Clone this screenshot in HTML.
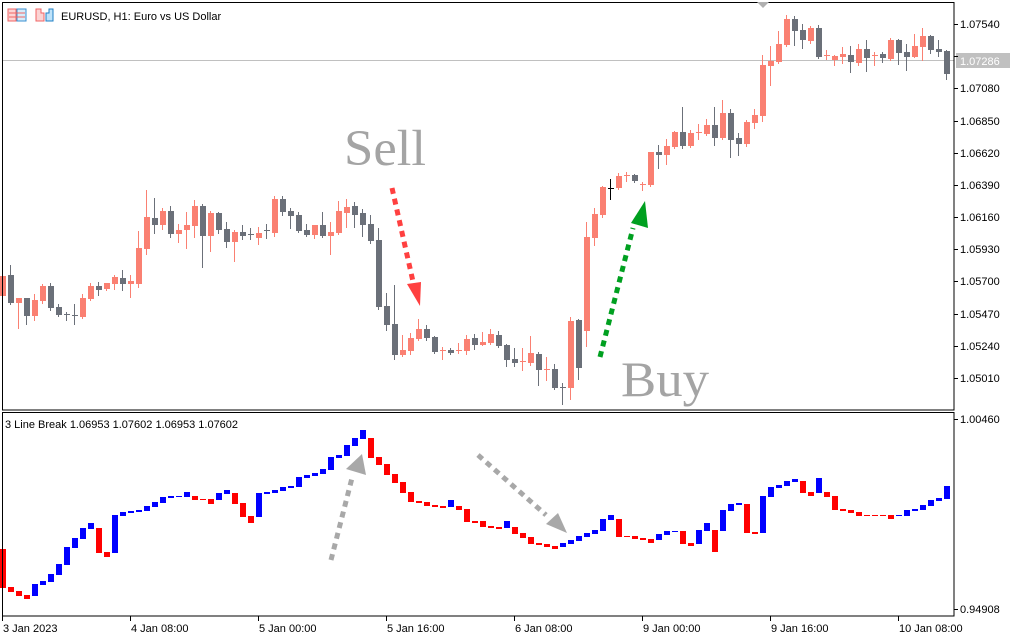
<!DOCTYPE html>
<html><head><meta charset="utf-8"><style>
html,body{margin:0;padding:0;background:#fff;width:1024px;height:640px;overflow:hidden}
svg{display:block}
text{font-family:"Liberation Sans",sans-serif;font-size:11px;fill:#000}
</style></head><body>
<svg id="s" width="1024" height="640" viewBox="0 0 1024 640" xmlns="http://www.w3.org/2000/svg">
<rect width="1024" height="640" fill="#fff"/>
<line x1="2" y1="60.5" x2="954" y2="60.5" stroke="#c0c0c0" stroke-width="1"/>
<g id="candles"></g>
<g id="boxes"></g>
<rect x="2.5" y="2.5" width="951.5" height="407.5" fill="none" stroke="#000" stroke-width="1"/>
<rect x="2.5" y="412.5" width="951.5" height="203.5" fill="none" stroke="#000" stroke-width="1"/>
<rect x="8" y="9" width="8" height="12" fill="#fbd4d4" stroke="#f06464"/>
<rect x="17" y="9" width="9" height="12" fill="#d6ecfa" stroke="#3a8fd0"/>
<line x1="9" y1="13" x2="25" y2="13" stroke="#f06464"/><line x1="9" y1="17" x2="25" y2="17" stroke="#f06464"/>
<path d="M36 9 h5 v4 h3 v8 h-8z" fill="#fbd4d4" stroke="#f06464"/>
<path d="M46 13 h3 v-4 h4 v12 h-7z" fill="#bfe3fa" stroke="#1f7fc4"/>
<text x="61" y="20">EURUSD, H1:  Euro vs US Dollar</text>
<text x="5" y="428">3 Line Break 1.06953 1.07602 1.06953 1.07602</text>
<path d="M757 2 L769 2 L763 8 Z" fill="#b0b0b0"/>
<text x="344" y="165" textLength="82" lengthAdjust="spacingAndGlyphs" style="font-family:'Liberation Serif',serif;font-size:51px;fill:#a4a4a4">Sell</text>
<text x="621" y="396" textLength="88" lengthAdjust="spacingAndGlyphs" style="font-family:'Liberation Serif',serif;font-size:50px;fill:#a4a4a4">Buy</text>
<line x1="392" y1="188" x2="414" y2="286" stroke="#ff4040" stroke-width="5" stroke-dasharray="6,5"/>
<path d="M407 284 L421 282 L420 306 Z" fill="#ff4040"/>
<line x1="600" y1="357" x2="633" y2="228" stroke="#00a020" stroke-width="5" stroke-dasharray="6,5"/>
<path d="M631 223 L648 228 L645 201 Z" fill="#00a020"/>
<line x1="331" y1="560" x2="352" y2="478" stroke="#a8a8a8" stroke-width="5" stroke-dasharray="6,5"/>
<path d="M346 469 L366 475 L362 454 Z" fill="#a8a8a8"/>
<line x1="478" y1="455" x2="546" y2="515" stroke="#a8a8a8" stroke-width="5" stroke-dasharray="6,5"/>
<path d="M546 524 L567 533 L558 513 Z" fill="#a8a8a8"/>
<rect x="956" y="53" width="54" height="15" fill="#c0c0c0"/>
<text x="960" y="65" style="fill:#fff">1.07286</text>
<g id="axis"></g>
</svg>
<script>
var NS="http://www.w3.org/2000/svg";
function el(p,t,a){var e=document.createElementNS(NS,t);for(var k in a)e.setAttribute(k,a[k]);p.appendChild(e);return e;}
var C=[[276,296,276,296,'r'],[275,303,265,304,'g'],[298,303,298,328,'r'],[298,316,298,324,'g'],[300,316,294,320,'r'],[286,301,284,303,'r'],[286,308,283,310,'g'],[307,315,304,316,'g'],[314,316,312,320,'g'],[315,317,304,324,'g'],[298,317,294,318,'r'],[286,299,283,300,'r'],[286,290,282,295,'g'],[283,289,283,290,'r'],[277,284,275,289,'r'],[278,284,270,290,'g'],[281,284,275,297,'r'],[248,284,231,287,'r'],[217,249,190,254,'r'],[218,225,198,233,'g'],[211,225,208,229,'r'],[211,234,206,237,'g'],[230,234,224,242,'r'],[225,230,212,248,'r'],[206,226,200,237,'r'],[206,236,204,267,'g'],[213,236,211,251,'r'],[213,230,212,233,'g'],[229,242,222,247,'g'],[232,242,230,261,'r'],[232,236,225,239,'g'],[234,236,228,239,'g'],[233,238,227,244,'r'],[230,232,224,238,'g'],[199,233,196,236,'r'],[199,212,196,215,'g'],[211,216,208,228,'g'],[215,231,212,232,'g'],[230,235,224,236,'g'],[225,235,225,238,'r'],[225,236,212,237,'g'],[232,236,222,254,'r'],[211,233,201,234,'r'],[207,213,199,227,'r'],[206,215,202,227,'g'],[213,225,209,236,'g'],[224,241,215,243,'g'],[240,307,228,309,'g'],[306,325,293,330,'g'],[324,355,285,359,'g'],[350,355,335,356,'r'],[338,351,333,354,'r'],[329,339,319,340,'r'],[329,338,325,340,'g'],[337,352,336,353,'g'],[350,352,347,359,'r'],[350,353,348,354,'g'],[350,352,343,353,'r'],[339,351,335,354,'r'],[338,345,334,349,'g'],[342,345,332,345,'r'],[334,343,329,344,'r'],[335,346,331,347,'g'],[345,360,344,366,'g'],[359,363,348,366,'g'],[361,363,348,370,'r'],[353,363,336,365,'r'],[354,370,352,385,'g'],[369,370,357,380,'r'],[369,388,364,389,'g'],[387,388,383,404,'g'],[321,388,317,399,'r'],[320,368,319,379,'g'],[237,331,222,346,'r'],[214,238,208,245,'r'],[187,215,186,217,'r'],[188,189,179,199,'k'],[176,188,173,189,'r'],[175,177,172,181,'r'],[175,181,174,182,'g'],[184,186,182,190,'r'],[152,185,152,186,'r'],[152,155,145,168,'g'],[146,155,139,164,'r'],[132,147,131,148,'r'],[132,146,107,148,'g'],[133,146,130,147,'r'],[132,134,124,139,'r'],[125,134,119,135,'r'],[125,138,107,145,'g'],[113,138,100,139,'r'],[113,140,109,157,'g'],[138,144,133,155,'g'],[122,144,120,146,'r'],[115,123,109,128,'r'],[65,116,55,121,'r'],[61,66,46,85,'r'],[44,62,31,63,'r'],[19,45,15,46,'r'],[19,31,16,45,'g'],[30,40,24,48,'g'],[28,41,26,43,'r'],[28,57,25,58,'g'],[55,57,50,59,'r'],[56,60,55,65,'r'],[54,57,47,63,'r'],[55,62,46,72,'g'],[49,63,44,65,'r'],[49,58,40,71,'g'],[55,57,52,65,'r'],[54,58,52,62,'g'],[40,59,38,60,'r'],[40,53,39,64,'g'],[52,57,44,70,'g'],[46,57,34,57,'r'],[36,47,28,60,'r'],[36,50,35,53,'g'],[49,52,40,56,'g'],[51,74,50,79,'g']];
var col={r:'#fa8072',g:'#6b7079',k:'#000'};
var g=document.getElementById('candles');
C.forEach(function(c,i){var x=2.5+8*i;var f=col[c[4]];
el(g,'line',{x1:x,y1:c[2],x2:x,y2:c[3]+1,stroke:f,'stroke-width':1});
var h=Math.max(1,c[1]-c[0]);
if(c[1]-c[0]<=2) el(g,'rect',{x:x-2.5,y:c[0],width:6,height:1,fill:f});
else el(g,'rect',{x:x-2.5,y:c[0],width:6,height:h,fill:f});});
var B=[[549,588,'r'],[587,592,'r'],[591,596,'r'],[595,599,'r'],[584,596,'b'],[581,585,'b'],[574,582,'b'],[564,575,'b'],[547,565,'b'],[538,548,'b'],[528,539,'b'],[523,529,'b'],[528,553,'r'],[552,557,'r'],[515,553,'b'],[512,516,'b'],[511,513,'b'],[510,512,'b'],[506,511,'b'],[502,507,'b'],[497,503,'b'],[496,498,'b'],[496,497,'b'],[492,497,'b'],[496,500,'r'],[499,500,'r'],[499,504,'r'],[493,500,'b'],[490,494,'b'],[493,504,'r'],[503,517,'r'],[516,523,'r'],[493,517,'b'],[492,494,'b'],[490,493,'b'],[487,491,'b'],[486,488,'b'],[477,487,'b'],[475,478,'b'],[473,476,'b'],[469,474,'b'],[457,470,'b'],[455,458,'b'],[445,456,'b'],[438,446,'b'],[430,439,'b'],[438,458,'r'],[457,465,'r'],[464,475,'r'],[474,483,'r'],[482,493,'r'],[492,502,'r'],[501,503,'r'],[502,506,'r'],[505,507,'r'],[506,508,'r'],[500,507,'b'],[506,510,'r'],[509,522,'r'],[521,523,'r'],[521,527,'r'],[526,528,'r'],[527,529,'r']];
var Z=[[348,369,'b'],[366,387,'r'],[384,399,'r'],[396,417,'r'],[414,420,'r'],[417,426,'r'],[423,432,'r'],[414,426,'b'],[405,417,'b'],[393,408,'b'],[384,396,'b'],[375,387,'b'],[342,378,'b'],[330,345,'b'],[342,396,'r'],[393,396,'r'],[393,402,'r'],[399,405,'r'],[402,414,'r'],[387,405,'b'],[378,390,'b'],[377,381,'b'],[378,417,'r'],[414,423,'r'],[375,417,'b'],[354,378,'b'],[375,441,'r'],[315,378,'b'],[297,318,'b'],[294,300,'b'],[297,384,'r'],[381,387,'r'],[273,384,'b'],[246,276,'b'],[240,249,'b'],[228,243,'b'],[222,231,'b'],[228,264,'r'],[261,273,'r'],[219,264,'b'],[261,276,'r'],[273,315,'r'],[312,318,'r'],[315,324,'r'],[321,333,'r'],[330,333,'r'],[330,333,'r'],[330,333,'r'],[330,342,'r'],[330,333,'b'],[315,333,'b'],[312,318,'b'],[300,315,'b'],[285,303,'b'],[279,288,'b'],[243,282,'b']];
Z.forEach(function(z){B.push([405+z[0]/3,405+z[1]/3,z[2]]);});
var gb=document.getElementById('boxes');
B.forEach(function(b,i){var x=2.5+8*i;var h=Math.max(1,Math.round(b[1]-b[0]));
el(gb,'rect',{x:x-2.5,y:Math.round(b[0]),width:6,height:h,fill:b[2]=='r'?'#ff0000':'#0000ff'});});
var ga=document.getElementById('axis');
var P=['1.07540','1.07310','1.07080','1.06850','1.06620','1.06390','1.06160','1.05930','1.05700','1.05470','1.05240','1.05010'];
P.forEach(function(p,i){var y=Math.round(24+i*32.18);
el(ga,'line',{x1:954,y1:y+0.5,x2:958,y2:y+0.5,stroke:'#000'});
if(i!=1){var t=el(ga,'text',{x:960,y:y+4});t.textContent=p;}});
[[419,'1.00460'],[609,'0.94908']].forEach(function(a){el(ga,'line',{x1:954,y1:a[0]+0.5,x2:958,y2:a[0]+0.5,stroke:'#000'});var t=el(ga,'text',{x:960,y:a[0]+4});t.textContent=a[1];});
var T=['3 Jan 2023','4 Jan 08:00','5 Jan 00:00','5 Jan 16:00','6 Jan 08:00','9 Jan 00:00','9 Jan 16:00','10 Jan 08:00'];
T.forEach(function(s,i){var x=2+128*i;el(ga,'line',{x1:x+0.5,y1:616,x2:x+0.5,y2:621,stroke:'#000'});var t=el(ga,'text',{x:x+1,y:632});t.textContent=s;});
</script>
</body></html>
